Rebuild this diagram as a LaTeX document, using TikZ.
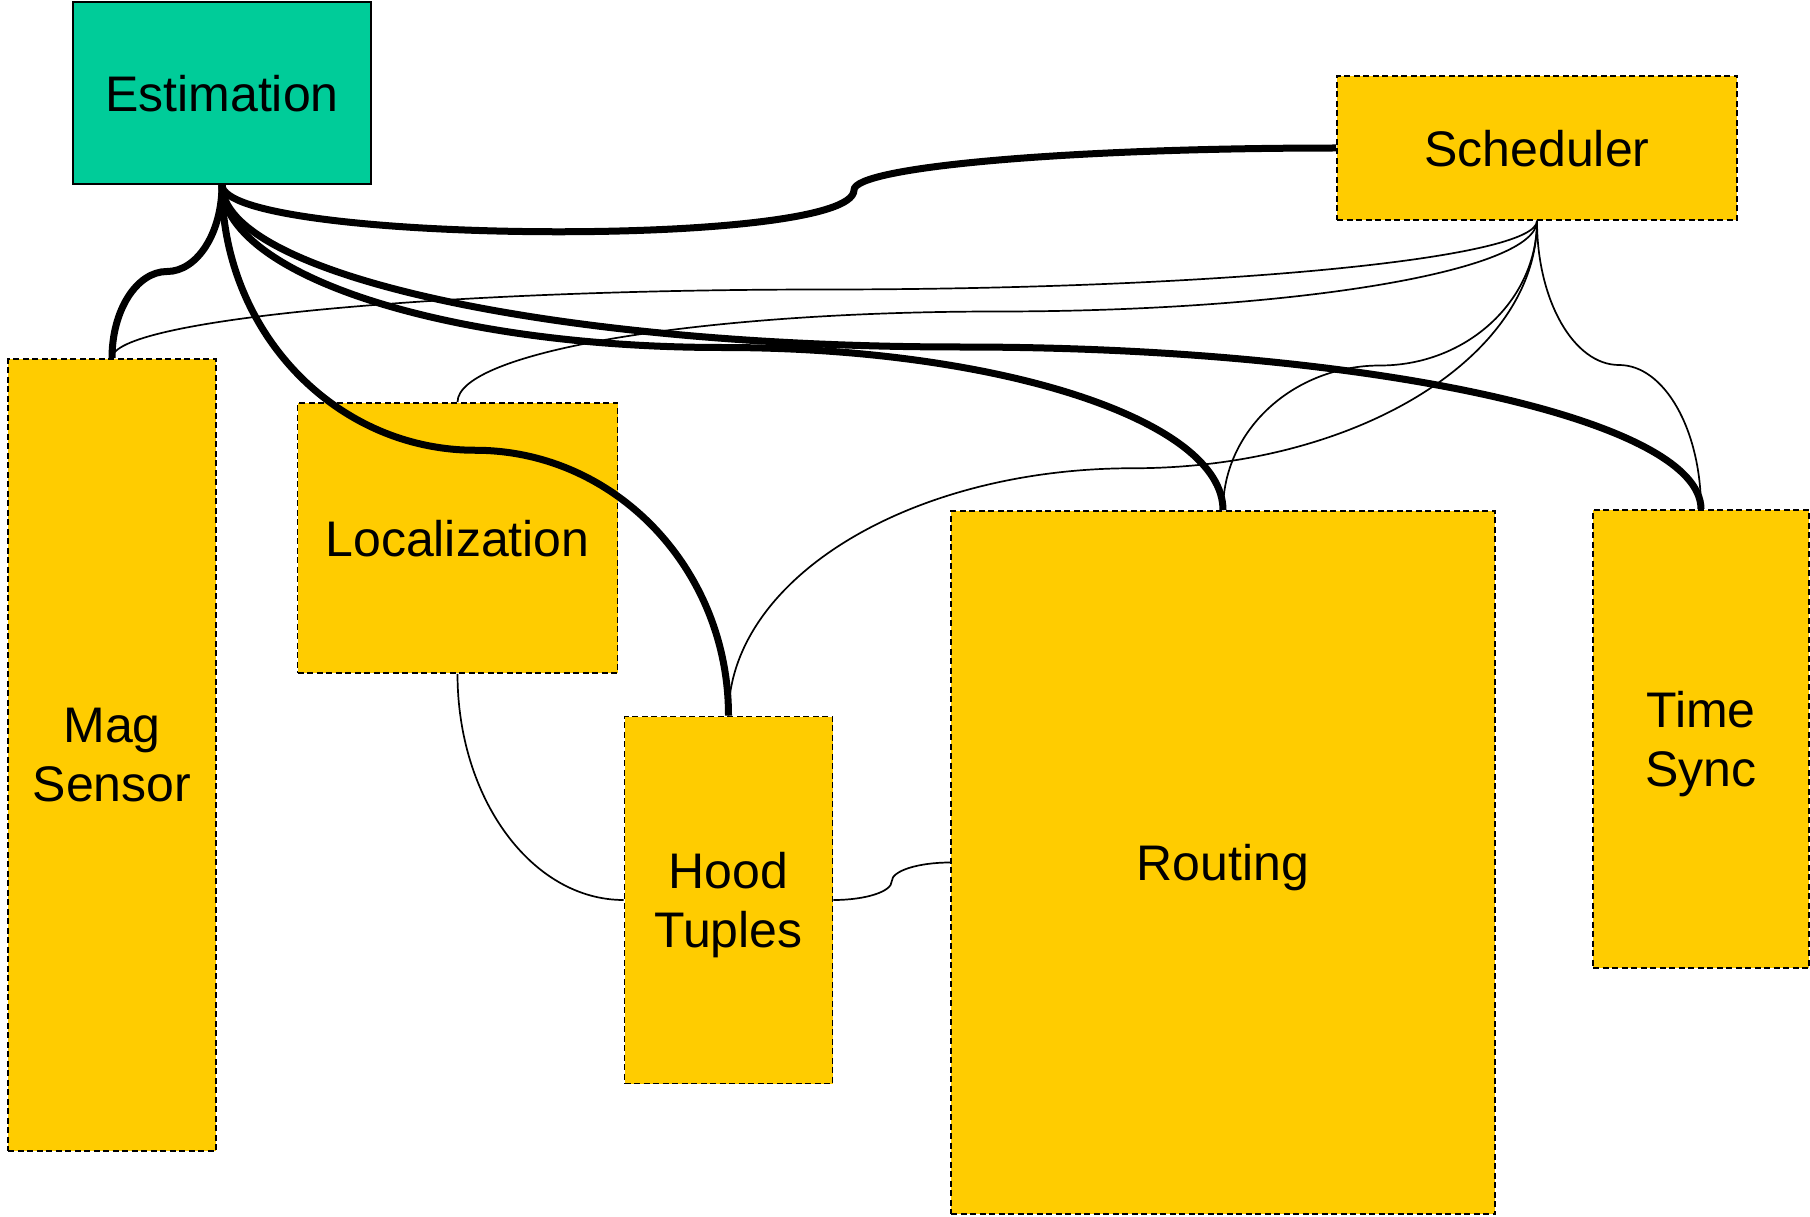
\documentclass[tikz,border=0pt]{standalone}
\usepackage{fontspec}
\setmainfont{Liberation Sans}
\usetikzlibrary{calc}

\definecolor{estgreen}{RGB}{0,204,153}
\definecolor{modyellow}{RGB}{255,204,0}

% control-point fraction for the quarter-ellipse connector halves
\newcommand\curvek{0.552}

\tikzset{
  module/.style={draw=black, line width=1.7pt, dash pattern=on 6pt off 3.5pt,
    fill=modyellow, inner sep=0pt, align=center, text depth=0pt,
    font=\fontsize{50}{59}\selectfont},
  core/.style={module, solid, fill=estgreen},
  strong/.style={line width=7pt},
  weak/.style={line width=1.7pt},
  % leave vertically, arrive horizontally
  vh/.style={to path={.. controls ($(\tikztostart)!\curvek!(\tikztostart|-\tikztotarget)$)
      and ($(\tikztotarget)!\curvek!(\tikztostart|-\tikztotarget)$) .. (\tikztotarget)}},
  % leave horizontally, arrive vertically
  hv/.style={to path={.. controls ($(\tikztostart)!\curvek!(\tikztostart-|\tikztotarget)$)
      and ($(\tikztotarget)!\curvek!(\tikztostart-|\tikztotarget)$) .. (\tikztotarget)}},
}

\begin{document}
\begin{tikzpicture}[x=1pt,y=-1pt]
\useasboundingbox (0,0) rectangle (1810,1217);

% modules
\node[core,   minimum width=298, minimum height=182] (est)   at (222,93)     {Estimation};
\node[module, minimum width=400, minimum height=144] (sched) at (1537,148)   {Scheduler};
\node[module, minimum width=208, minimum height=792] (mag)   at (112,755)    {Mag\\Sensor};
\node[module, minimum width=320, minimum height=270] (loc)   at (457.5,538)  {Localization};
\node[module, minimum width=208, minimum height=367] (hood)  at (728.5,900)  {Hood\\Tuples};
\node[module, minimum width=544, minimum height=703] (rout)  at (1223,862.5) {Routing};
\node[module, minimum width=216, minimum height=458] (tsync) at (1701,739)   {Time\\Sync};

% turning points of the connectors
\coordinate (eMag)  at ($(est.south)!0.5!(mag.north)$);
\coordinate (eHood) at ($(est.south)!0.5!(hood.north)$);
\coordinate (eRout) at ($(est.south)!0.5!(rout.north)$);
\coordinate (eTime) at ($(est.south)!0.5!(tsync.north)$);
\coordinate (eSch)  at (854,190);
\coordinate (sMag)  at ($(sched.south)!0.5!(mag.north)$);
\coordinate (sLoc)  at ($(sched.south)!0.5!(loc.north)$);
\coordinate (sHood) at ($(sched.south)!0.5!(hood.north)$);
\coordinate (sRout) at ($(sched.south)!0.5!(rout.north)$);
\coordinate (sTime) at ($(sched.south)!0.5!(tsync.north)$);
\coordinate (hR)    at ($(hood.east)!0.5!(rout.west)$);

% scheduler links
\draw[weak] (sched.south) to[vh] (sMag)  to[hv] (mag.north);
\draw[weak] (sched.south) to[vh] (sLoc)  to[hv] (loc.north);
\draw[weak] (sched.south) to[vh] (sHood) to[hv] (hood.north);
\draw[weak] (sched.south) to[vh] (sRout) to[hv] (rout.north);
\draw[weak] (sched.south) to[vh] (sTime) to[hv] (tsync.north);

% other thin links
\draw[weak] (loc.south) to[vh] (hood.west);
\draw[weak] (hood.east) to[hv] (hR) to[vh] (rout.west);

% estimation links
\draw[strong] (est.south) to[vh] (eMag)  to[hv] (mag.north);
\draw[strong] (est.south) to[vh] (eHood) to[hv] (hood.north);
\draw[strong] (est.south) to[vh] (eRout) to[hv] (rout.north);
\draw[strong] (est.south) to[vh] (eTime) to[hv] (tsync.north);
\draw[strong] (est.south) .. controls +(0,59) and +(0,59) .. (eSch) to[vh] (sched.west);
\end{tikzpicture}
\end{document}
